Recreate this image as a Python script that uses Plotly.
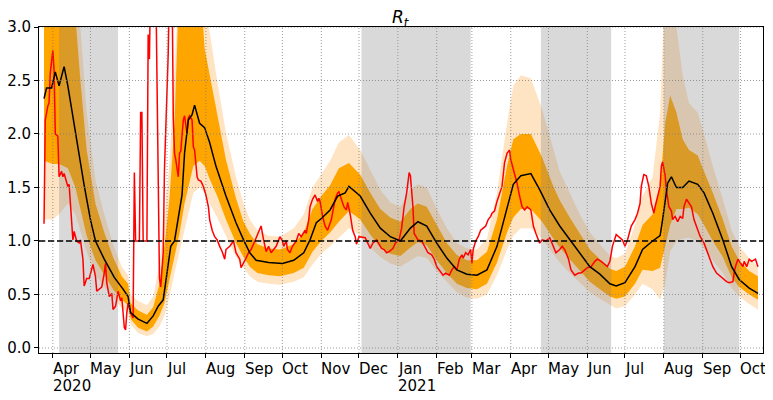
import pandas as pd
import plotly.graph_objects as go

# all x values are days counted from 1 April 2020
BASE = pd.Timestamp("2020-04-01")

# median R_t (black)
med_day = [-7, -5, -1, 2, 5, 9, 12, 18, 25, 30, 34, 41, 49, 56, 60, 62, 68, 75, 80, 84,
           88, 91, 94, 97, 100, 103, 105, 108, 111, 113, 117, 121, 125, 130, 138, 146, 152,
           157, 162, 172, 183, 192, 200, 205, 210, 214, 221, 227, 233, 236, 245, 253, 261,
           269, 277, 285, 291, 298, 306, 314, 322, 330, 338, 346, 354, 362, 367, 373, 381,
           388, 396, 404, 412, 420, 428, 436, 444, 449, 456, 464, 470, 478, 484, 486, 488,
           490, 493, 497, 502, 507, 514, 519, 526, 534, 541, 547, 555, 562]
med_val = [2.33, 2.43, 2.43, 2.58, 2.45, 2.63, 2.45, 2.0, 1.52, 1.2, 1.0, 0.83, 0.66, 0.55,
           0.48, 0.33, 0.27, 0.23, 0.30, 0.39, 0.45, 0.70, 0.95, 1.0, 1.2, 1.43, 1.82, 2.13,
           2.18, 2.27, 2.1, 2.06, 1.92, 1.70, 1.42, 1.17, 1.01, 0.89, 0.82, 0.80, 0.79, 0.82,
           0.89, 1.01, 1.17, 1.21, 1.29, 1.42, 1.45, 1.51, 1.42, 1.26, 1.12, 1.04, 1.0, 1.12,
           1.18, 1.14, 0.98, 0.84, 0.73, 0.69, 0.68, 0.73, 0.95, 1.32, 1.53, 1.61, 1.63, 1.48,
           1.29, 1.14, 1.01, 0.89, 0.76, 0.69, 0.60, 0.58, 0.61, 0.76, 0.92, 1.0, 1.05, 1.2,
           1.39, 1.54, 1.60, 1.50, 1.50, 1.56, 1.53, 1.45, 1.26, 1.01, 0.76, 0.64, 0.56, 0.51]

# credible intervals (50% dark orange, 95% light)
band_day = [-7, 0, 5, 12, 18, 22, 27, 34, 41, 48, 55, 60, 62, 68, 75, 80, 85, 89, 93, 97,
            101, 105, 112, 117, 121, 125, 131, 138, 146, 152, 157, 163, 172, 181, 192, 200,
            207, 214, 221, 228, 236, 245, 253, 261, 269, 277, 285, 291, 298, 306, 314, 322,
            330, 338, 346, 354, 362, 367, 373, 381, 390, 399, 404, 412, 420, 428, 436, 444,
            449, 456, 464, 470, 478, 484, 488, 492, 497, 502, 507, 514, 519, 526, 534, 541,
            547, 555, 562]
hi50 = [3.5, 3.5, 3.5, 3.5, 3.1, 2.5, 1.85, 1.35, 1.08, 0.85, 0.67, 0.6, 0.42, 0.35, 0.31,
        0.38, 0.6, 0.95, 1.4, 2.1, 3.5, 3.5, 3.5, 3.5, 2.8, 2.55, 2.2, 1.76, 1.4, 1.18, 1.07,
        0.97, 0.93, 0.92, 0.97, 1.08, 1.3, 1.42, 1.52, 1.68, 1.73, 1.62, 1.45, 1.3, 1.22,
        1.18, 1.3, 1.35, 1.32, 1.15, 0.98, 0.87, 0.82, 0.82, 0.9, 1.2, 1.7, 1.95, 2.0, 2.0,
        1.78, 1.51, 1.38, 1.22, 1.07, 0.92, 0.83, 0.74, 0.72, 0.76, 0.95, 1.15, 1.25, 1.5,
        2.1, 2.36, 2.2, 1.95, 1.85, 1.8, 1.65, 1.45, 1.2, 0.95, 0.82, 0.72, 0.67]
lo50 = [1.75, 1.72, 1.72, 1.68, 1.5, 1.3, 1.05, 0.82, 0.68, 0.55, 0.45, 0.40, 0.27, 0.19,
        0.155, 0.2, 0.3, 0.42, 0.64, 0.85, 1.07, 1.35, 1.7, 1.75, 1.7, 1.58, 1.42, 1.2, 0.98,
        0.85, 0.76, 0.7, 0.68, 0.67, 0.7, 0.75, 0.9, 1.0, 1.08, 1.18, 1.28, 1.2, 1.06, 0.94,
        0.88, 0.86, 0.94, 0.99, 0.96, 0.82, 0.7, 0.6, 0.56, 0.55, 0.6, 0.8, 1.08, 1.22, 1.3,
        1.3, 1.18, 1.02, 0.94, 0.83, 0.72, 0.62, 0.55, 0.48, 0.46, 0.48, 0.6, 0.73, 0.72,
        0.75, 0.95, 1.15, 1.3, 1.3, 1.31, 1.25, 1.15, 1.0, 0.85, 0.66, 0.57, 0.5, 0.45]
hi95 = [3.5, 3.5, 3.5, 3.5, 3.5, 3.0, 2.2, 1.57, 1.25, 0.97, 0.76, 0.68, 0.5, 0.44, 0.40,
        0.48, 0.78, 1.2, 1.75, 2.6, 3.5, 3.5, 3.5, 3.5, 3.3, 2.95, 2.5, 2.01, 1.6, 1.35, 1.2,
        1.1, 1.05, 1.04, 1.12, 1.25, 1.5, 1.62, 1.75, 1.92, 1.99, 1.85, 1.66, 1.48, 1.36,
        1.32, 1.48, 1.53, 1.5, 1.3, 1.12, 0.98, 0.93, 0.92, 1.02, 1.45, 2.1, 2.45, 2.55,
        2.52, 2.23, 1.85, 1.65, 1.45, 1.25, 1.08, 0.97, 0.86, 0.84, 0.88, 1.15, 1.42, 1.6,
        2.2, 3.5, 3.5, 3.0, 2.55, 2.29, 2.2, 2.0, 1.7, 1.39, 1.1, 0.95, 0.84, 0.76]
lo95 = [1.2, 1.2, 1.25, 1.35, 1.25, 1.1, 0.9, 0.68, 0.58, 0.47, 0.37, 0.33, 0.22, 0.14,
        0.11, 0.13, 0.2, 0.3, 0.48, 0.7, 0.89, 1.1, 1.45, 1.5, 1.45, 1.35, 1.22, 1.04, 0.85,
        0.75, 0.67, 0.62, 0.6, 0.59, 0.62, 0.66, 0.78, 0.88, 0.95, 1.03, 1.12, 1.05, 0.94,
        0.85, 0.79, 0.76, 0.82, 0.86, 0.84, 0.72, 0.62, 0.52, 0.47, 0.46, 0.5, 0.68, 0.92,
        1.05, 1.12, 1.12, 1.02, 0.88, 0.8, 0.7, 0.61, 0.52, 0.46, 0.4, 0.37, 0.39, 0.5, 0.6,
        0.55, 0.45, 0.6, 0.9, 1.0, 1.02, 1.03, 1.0, 0.93, 0.82, 0.70, 0.56, 0.48, 0.41, 0.36]

# raw daily estimate (red); 3.5 = off the top of the axis
raw_day = [-7, -6, -4, -3, -2, 0, 1, 2, 4, 5, 7, 8, 9, 11, 12, 13, 15, 16, 17, 19, 21, 22,
           24, 25, 27, 29, 32, 34, 35, 38, 39, 41, 42, 43, 45, 47, 48, 50, 52, 54, 55, 57,
           58, 59, 60, 62, 63, 64, 65, 66, 69, 70, 71, 72, 75, 76, 77, 78, 82, 85, 86, 87,
           88, 89, 91, 92, 93, 95, 96, 97, 98, 100, 101, 102, 104, 105, 107, 108, 109, 111,
           112, 113, 115, 116, 118, 120, 122, 124, 125, 127, 129, 131, 133, 135, 137, 138,
           141, 144, 146, 149, 150, 152, 154, 156, 158, 161, 164, 166, 168, 170, 172, 174,
           176, 178, 181, 183, 184, 186, 187, 189, 191, 194, 196, 198, 201, 202, 204, 205,
           207, 209, 211, 212, 213, 215, 217, 219, 222, 225, 227, 228, 230, 232, 234, 235,
           237, 239, 241, 242, 244, 247, 249, 251, 253, 255, 258, 260, 262, 264, 266, 268,
           271, 273, 276, 278, 280, 282, 284, 285, 287, 288, 291, 294, 296, 299, 302, 304,
           306, 308, 311, 313, 316, 318, 320, 322, 324, 326, 327, 329, 331, 333, 334, 335,
           337, 339, 341, 343, 345, 347, 349, 350, 352, 354, 356, 358, 360, 362, 364, 365,
           367, 370, 372, 374, 376, 378, 381, 383, 385, 388, 390, 393, 396, 399, 401, 404,
           406, 408, 411, 413, 416, 419, 421, 424, 426, 429, 432, 434, 437, 440, 442, 444,
           446, 449, 451, 454, 456, 458, 461, 464, 466, 468, 469, 471, 473, 475, 477, 479,
           480, 482, 484, 485, 486, 488, 489, 491, 493, 494, 496, 498, 500, 502, 503, 505,
           507, 509, 511, 513, 516, 519, 521, 523, 526, 529, 532, 537, 539, 542, 543, 544,
           546, 548, 550, 551, 553, 555, 557, 560, 562]
raw_val = [1.16, 2.13, 2.26, 2.29, 2.57, 2.78, 2.60, 2.0, 1.98, 1.6, 1.65, 1.6, 1.63, 1.55,
           1.51, 1.53, 1.11, 1.01, 1.09, 1.0, 0.98, 1.01, 0.83, 0.58, 0.65, 0.65, 0.78, 0.67,
           0.53, 0.56, 0.57, 0.70, 0.79, 0.61, 0.48, 0.51, 0.36, 0.39, 0.53, 0.44, 0.47, 0.19,
           0.17, 0.33, 0.42, 0.33, 0.30, 0.28, 1.64, 1.0, 1.0, 2.2, 2.2, 1.0, 1.0, 2.93, 2.7,
           3.5, 3.5, 0.65, 0.57, 0.7, 0.89, 1.67, 2.29, 2.76, 3.5, 3.5, 2.17, 1.82, 1.76, 1.6,
           1.82, 1.84, 2.13, 2.17, 2.0, 2.15, 2.17, 2.13, 1.88, 1.85, 1.6, 1.57, 1.56, 1.51,
           1.43, 1.32, 1.2, 1.1, 1.04, 1.01, 0.95, 0.9, 0.83, 0.92, 0.95, 1.0, 0.89, 0.83,
           0.75, 0.79, 0.84, 0.89, 0.92, 1.0, 1.08, 1.14, 1.01, 0.9, 0.95, 0.89, 0.92, 0.95,
           1.04, 1.0, 0.95, 1.0, 0.92, 0.89, 0.95, 1.0, 1.07, 1.04, 1.1, 1.07, 1.2, 1.32,
           1.39, 1.43, 1.37, 1.4, 1.37, 1.23, 1.14, 1.1, 1.2, 1.39, 1.45, 1.46, 1.39, 1.32,
           1.29, 1.36, 1.25, 1.1, 1.04, 0.97, 1.04, 1.03, 1.03, 0.98, 0.93, 0.98, 1.01, 0.97,
           0.93, 0.92, 0.89, 0.9, 0.93, 0.98, 1.01, 1.12, 1.32, 1.45, 1.64, 1.61, 1.32, 1.07,
           1.01, 1.0, 0.95, 0.89, 0.87, 0.83, 0.76, 0.73, 0.68, 0.70, 0.68, 0.73, 0.76, 0.73,
           0.83, 0.87, 0.84, 0.89, 0.87, 0.92, 0.79, 0.92, 1.0, 1.04, 1.1, 1.12, 1.14, 1.2,
           1.23, 1.26, 1.28, 1.37, 1.45, 1.51, 1.73, 1.82, 1.85, 1.76, 1.67, 1.54, 1.42, 1.32,
           1.29, 1.32, 1.29, 1.14, 1.07, 0.98, 1.01, 1.0, 1.03, 0.95, 0.89, 0.92, 0.95, 0.92,
           0.83, 0.73, 0.68, 0.70, 0.70, 0.73, 0.75, 0.76, 0.81, 0.83, 0.81, 0.78, 0.76, 0.81,
           0.95, 1.06, 1.04, 1.01, 0.95, 1.01, 1.14, 1.2, 1.26, 1.35, 1.51, 1.62, 1.61, 1.51,
           1.35, 1.26, 1.32, 1.42, 1.51, 1.70, 1.74, 1.61, 1.48, 1.32, 1.28, 1.2, 1.23, 1.18,
           1.23, 1.21, 1.32, 1.39, 1.36, 1.32, 1.2, 1.14, 1.04, 0.98, 0.92, 0.86, 0.76, 0.70,
           0.67, 0.62, 0.61, 0.62, 0.70, 0.76, 0.83, 0.79, 0.76, 0.81, 0.76, 0.83, 0.81, 0.83,
           0.76]

# shaded lockdown periods
lockdown_start = ["2020-04-06", "2020-12-03", "2021-04-25", "2021-08-01"]
lockdown_end = ["2020-05-23", "2021-02-28", "2021-06-20", "2021-09-30"]

y_ticks = [0.0, 0.5, 1.0, 1.5, 2.0, 2.5, 3.0]
month_ticks = pd.date_range("2020-04-01", "2021-10-01", freq="MS")
year_labels = {"2020-04-01": "2020", "2021-01-01": "2021"}


def to_dates(days):
    return BASE + pd.to_timedelta(days, unit="D")


fig = go.Figure()
bd = to_dates(band_day)

fig.add_trace(go.Scatter(x=bd, y=hi95, mode="lines", line=dict(width=0), hoverinfo="skip"))
fig.add_trace(go.Scatter(x=bd, y=lo95, mode="lines", line=dict(width=0), fill="tonexty",
                         fillcolor="#ffe4c4", hoverinfo="skip"))
fig.add_trace(go.Scatter(x=bd, y=hi50, mode="lines", line=dict(width=0), hoverinfo="skip"))
fig.add_trace(go.Scatter(x=bd, y=lo50, mode="lines", line=dict(width=0), fill="tonexty",
                         fillcolor="#ffa500", hoverinfo="skip"))

# grey spans sit over the bands but under the lines
for s, e in zip(lockdown_start, lockdown_end):
    fig.add_trace(go.Scatter(x=[s, s, e, e], y=[-1, 4, 4, -1], mode="lines", fill="toself",
                             fillcolor="rgba(128,128,128,0.3)", line=dict(width=0),
                             hoverinfo="skip"))

fig.add_trace(go.Scatter(x=to_dates(raw_day), y=raw_val, mode="lines",
                         line=dict(color="red", width=1.5)))
fig.add_trace(go.Scatter(x=to_dates(med_day), y=med_val, mode="lines",
                         line=dict(color="black", width=1.5)))

# dotted grid drawn above the filled bands, like matplotlib
grid = dict(color="gray", width=0.8, dash="1px,2px")
for m in month_ticks:
    fig.add_shape(type="line", xref="x", yref="paper", x0=m, x1=m, y0=0, y1=1,
                  line=grid, layer="above")
for v in y_ticks:
    fig.add_shape(type="line", xref="paper", yref="y", x0=0, x1=1, y0=v, y1=v,
                  line=grid, layer="above")
fig.add_shape(type="line", xref="paper", yref="y", x0=0, x1=1, y0=1, y1=1,
              line=dict(color="black", width=1.5, dash="6px,3px"), layer="above")

font = dict(family="DejaVu Sans", size=15, color="black")
for m in month_ticks:
    fig.add_annotation(x=m, y=0, xref="x", yref="paper", text=m.strftime("%b"),
                       showarrow=False, xanchor="left", yanchor="top", yshift=-5,
                       xshift=-2, font=font)
    key = m.strftime("%Y-%m-%d")
    if key in year_labels:
        fig.add_annotation(x=m, y=0, xref="x", yref="paper", text=year_labels[key],
                           showarrow=False, xanchor="left", yanchor="top", yshift=-22,
                           xshift=-2, font=font)

fig.add_annotation(x=0.5, y=1, xref="paper", yref="paper", text="<i>R</i><sub><i>t</i></sub>",
                   showarrow=False, yanchor="middle", yshift=9,
                   font=dict(family="DejaVu Sans", size=17, color="black"))

# the page body has an 8px margin, so the figure is sized to end at 773x400
fig.update_layout(
    width=765, height=392,
    margin=dict(l=31, r=10, t=19, b=47),
    paper_bgcolor="white", plot_bgcolor="white",
    showlegend=False,
    font=font,
)
fig.update_xaxes(range=["2020-03-21", "2021-10-19"], tickvals=month_ticks,
                 showticklabels=False, ticks="outside", ticklen=4, tickcolor="black",
                 showgrid=False, zeroline=False, showline=True, linecolor="black",
                 linewidth=1, mirror=True, automargin=False)
fig.update_yaxes(range=[-0.047, 3.0], tickvals=y_ticks, tickformat=".1f",
                 ticks="outside", ticklen=4, tickcolor="black", showgrid=False,
                 zeroline=False, showline=True, linecolor="black", linewidth=1,
                 mirror=True, tickfont=font, automargin=False)

fig.write_html("out.html")
